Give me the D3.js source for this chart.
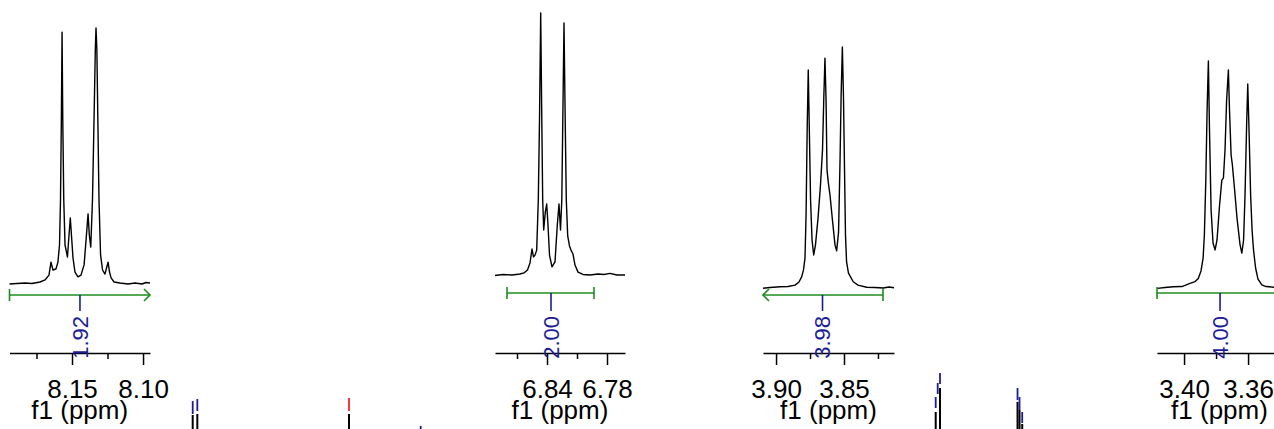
<!DOCTYPE html>
<html>
<head>
<meta charset="utf-8">
<script src="https://cdn.jsdelivr.net/npm/d3@7/dist/d3.min.js"></script>
<style>
  html, body { margin: 0; padding: 0; background: #fff; overflow: hidden; }
  svg { display: block; }
  text { font-family: "Liberation Sans", Arial, Helvetica, sans-serif; }
</style>
</head>
<body>
<svg id="chart" width="1274" height="429"></svg>
<script>
// ---------------- DATA ----------------
// Inset 1: 8.19 – 8.10 ppm
const p1Ppm = [8.1940,8.1887,8.1831,8.1782,8.1725,8.1690,8.1662,8.1648,8.1634,8.1613,8.1599,8.1588,8.1581,8.1575,8.1570,8.1565,8.1558,8.1549,8.1532,8.1521,8.1512,8.1504,8.1493,8.1479,8.1458,8.1437,8.1415,8.1401,8.1387,8.1378,8.1368,8.1356,8.1345,8.1336,8.1331,8.1325,8.1318,8.1310,8.1299,8.1285,8.1268,8.1257,8.1246,8.1236,8.1225,8.1204,8.1162,8.1106,8.1056,8.1007,8.0979,8.0951];
const p1Int = [-0.4,-0.2,0,-0.2,0.4,1.2,3.1,8.2,5.1,5.5,8.2,14.9,32.5,63.9,98.4,63.9,32.5,14.9,10.2,18.8,25.5,18.8,9.8,4.3,2.4,3.1,7.1,16.9,27.1,18.8,14.1,32.5,63.9,91.4,100,91.4,63.9,32.5,11.0,5.1,3.5,5.9,8.2,4.3,2.0,0.4,0,-0.4,0,-0.4,0.2,0];

// Inset 2: 6.89 – 6.76 ppm
const p2Ppm = [6.892,6.884,6.875,6.867,6.863,6.8595,6.857,6.855,6.8535,6.852,6.8503,6.8487,6.8475,6.8463,6.8452,6.8443,6.8433,6.8417,6.8403,6.839,6.8375,6.835,6.832,6.8297,6.828,6.8265,6.8252,6.8242,6.823,6.8218,6.8207,6.8193,6.8175,6.816,6.814,6.812,6.809,6.804,6.797,6.789,6.783,6.777,6.770,6.762];
const p2Int = [-0.2,0.2,0,0.4,0.8,1.9,4.6,9.9,6.9,7.6,9.5,28.6,59.2,100,59.2,28.6,17.2,24.0,27.1,19.1,7.6,3.1,5.0,19.1,27.1,17.2,28.6,59.2,96.2,59.2,28.6,14.9,11.1,9.5,8.0,3.8,1.1,0.2,0,0.4,0.2,0.6,0,0];

// Inset 3: 3.91 – 3.81 ppm
const p3Ppm = [3.9096,3.9044,3.8971,3.8912,3.8860,3.8831,3.8811,3.8798,3.8787,3.8779,3.8771,3.8763,3.8755,3.8746,3.8735,3.8723,3.8710,3.8691,3.8673,3.8658,3.8649,3.8640,3.8632,3.8625,3.8615,3.8603,3.8585,3.8566,3.8554,3.8540,3.8529,3.8521,3.8512,3.8504,3.8496,3.8489,3.8481,3.8467,3.8432,3.8397,3.8333,3.8272,3.8211,3.8169,3.8132];
const p3Int = [-0.1,0.2,0.5,0.6,1.2,2.5,4.7,7.5,12.4,30.3,65.6,90.5,65.6,36.5,19.9,13.7,17.8,29.0,42.7,57.3,78.0,95.4,78.0,49.0,43.6,38.6,28.2,17.8,15.4,23.2,53.1,80.1,100,80.1,49.0,22.0,10.8,6.2,2.6,1.2,0.3,0.2,0,0.4,0.1];

// Inset 4: 3.42 – 3.34 ppm
const p4Ppm = [3.4167,3.4119,3.4067,3.4013,3.3963,3.3931,3.3911,3.3894,3.3881,3.3873,3.3864,3.3856,3.3848,3.3841,3.3831,3.3819,3.3806,3.3794,3.3778,3.3764,3.3754,3.3744,3.3734,3.3723,3.3716,3.3706,3.3698,3.3684,3.3669,3.3650,3.3639,3.3628,3.3619,3.3609,3.3602,3.3594,3.3584,3.3575,3.3566,3.3553,3.3538,3.3514,3.3488,3.3438,3.3388];
const p4Int = [-0.6,-0.2,0.1,0.2,1.6,2.4,3.8,7.1,12.8,23.0,47.3,78.3,100,69.5,34.1,19.5,16.4,20.8,36.3,47.3,48.2,60.6,82.7,96.0,78.3,58.4,54.0,42.9,30.5,18.6,15.0,20.8,40.7,71.7,89.8,69.5,40.7,25.2,16.4,8.4,3.5,0.9,0.2,-0.1,-0.1];

// ppm window of each inset (left, right)
const windowLeft  = [8.1940, 6.892, 3.9096, 3.4169];
const windowRight = [8.0951, 6.762, 3.8132, 3.3388];

// axis ticks
const majorTicks = [[8.15, 8.10], [6.84, 6.78], [3.90, 3.85], [3.40, 3.36]];
const minorTicks = [[8.175, 8.125], [6.87, 6.81], [3.875, 3.825], [3.38]];
const axisTitle = "f1 (ppm)";

// integrals
const intLabels = ["1.92", "2.00", "3.98", "4.00"];
const intFrom   = [8.1940, 6.880, 3.9096, 3.4169];
const intTo     = [8.0951, 6.793, 3.8213, 3.3388];
const intMid    = [8.1444, 6.836, 3.8658, 3.3775];
const intLeftEnd  = ["bar", "bar", "arrow", "bar"];
const intRightEnd = ["arrow", "bar", "bar", "none"];

// main spectrum (mostly outside the crop): peak stubs and pick markers
const mainPeakPpm    = [8.1583, 8.1317, 7.2574, 3.8759, 3.8511, 3.4042, 3.3927, 3.3772];
const mainPeakHeight = [57, 57.5, 57.5, 58.5, 70.5, 63.5, 59.5, 52.5];
const markPpm   = [8.1583, 8.1317, 7.2574, 6.8441, 3.8759, 3.8644, 3.8511, 3.4042, 3.3927, 3.3772];
const markLow   = [57.5, 59, 59, 50, 60.5, 67.5, 72.5, 64.5, 59.5, 53];
const markHigh  = [64, 65, 65.5, 51.5, 66, 73, 78, 70.5, 66, 58.5];
const markKind  = ["peak","peak","solvent","peak","peak","peak","peak","peak","peak","peak"];

// ---------------- LAYOUT ----------------
const W = 1274, H = 429;
const svg = d3.select("#chart");
const axisY = 353;
const panels = [
  { ppm: p1Ppm, inten: p1Int, x0: 9.5,  x1: 150,  base: 283, top: 28, intY: 295 },
  { ppm: p2Ppm, inten: p2Int, x0: 495,  x1: 625,  base: 275, top: 13, intY: 293 },
  { ppm: p3Ppm, inten: p3Int, x0: 763,  x1: 894,  base: 288, top: 47, intY: 295 },
  { ppm: p4Ppm, inten: p4Int, x0: 1157, x1: 1282, base: 287, top: 61, intY: 293 }
];
const GREEN = "#1e8c1e";
const NAVY = "#1c1c96";

panels.forEach((p, i) => {
  const x = d3.scaleLinear().domain([windowLeft[i], windowRight[i]]).range([p.x0, p.x1]);
  const y = d3.scaleLinear().domain([0, 100]).range([p.base, p.top]);
  const g = svg.append("g");

  // spectrum
  const pts = p.ppm.map((v, k) => [v, p.inten[k]]);
  g.append("path")
    .datum(pts)
    .attr("fill", "none")
    .attr("stroke", "#000")
    .attr("stroke-width", 1.4)
    .attr("stroke-linejoin", "round")
    .attr("d", d3.line().x(d => x(d[0])).y(d => y(d[1])));

  // integral bracket
  const iy = p.intY;
  const xa = x(intFrom[i]), xb = x(intTo[i]), xm = x(intMid[i]);
  const ig = g.append("g").attr("stroke", GREEN).attr("stroke-width", 1.6).attr("fill", "none");
  ig.append("line").attr("x1", xa).attr("x2", xb).attr("y1", iy).attr("y2", iy);
  const end = (xe, kind, dir) => {
    if (kind === "bar") {
      ig.append("line").attr("x1", xe).attr("x2", xe).attr("y1", iy - 6).attr("y2", iy + 6);
    } else if (kind === "arrow") {
      ig.append("path").attr("d", `M${xe - dir * 6},${iy - 6}L${xe},${iy}L${xe - dir * 6},${iy + 6}`);
    }
  };
  end(xa, intLeftEnd[i], -1);
  end(xb, intRightEnd[i], 1);

  // integral value
  g.append("line").attr("x1", xm).attr("x2", xm).attr("y1", iy).attr("y2", 311)
    .attr("stroke", NAVY).attr("stroke-width", 1.6);

  // axis: minor ticks
  const axMinor = d3.axisBottom(x).tickValues(minorTicks[i]).tickSize(6).tickSizeOuter(0).tickFormat("");
  const gMinor = svg.append("g").attr("transform", `translate(0,${axisY})`).call(axMinor);
  gMinor.select(".domain").remove();
  gMinor.selectAll("line").attr("stroke", "#000").attr("stroke-width", 1.5);

  const axMajor = d3.axisBottom(x).tickValues(majorTicks[i]).tickSize(12).tickSizeOuter(0)
    .tickPadding(15).tickFormat(d3.format(".2f"));
  const gMajor = svg.append("g").attr("transform", `translate(0,${axisY})`).call(axMajor);
  gMajor.select(".domain").attr("stroke", "#000").attr("stroke-width", 1.5);
  gMajor.selectAll("line").attr("stroke", "#000").attr("stroke-width", 1.5);
  gMajor.selectAll("text").attr("font-size", 26).attr("fill", "#000")
    .attr("font-family", '"Liberation Sans", Arial, sans-serif');

  // integral label (on top of the axis)
  svg.append("text")
    .attr("transform", `translate(${xm},316) rotate(-90)`)
    .attr("text-anchor", "end")
    .attr("dy", "0.36em")
    .attr("font-size", 22)
    .attr("fill", NAVY)
    .text(intLabels[i]);

  // axis title
  svg.append("text")
    .attr("x", (p.x0 + p.x1) / 2)
    .attr("y", 419)
    .attr("text-anchor", "middle")
    .attr("font-size", 26)
    .attr("fill", "#000")
    .text(axisTitle);
});

// main spectrum fragments at the bottom edge
const xMain = d3.scaleLinear().domain([9.269, 1.926]).range([0, W]);
const yMain = d3.scaleLinear().domain([0, 100]).range([529, 329]);
svg.append("g").selectAll("line").data(mainPeakPpm).join("line")
  .attr("x1", d => xMain(d)).attr("x2", d => xMain(d))
  .attr("y1", yMain(0)).attr("y2", (d, k) => yMain(mainPeakHeight[k]))
  .attr("stroke", "#000").attr("stroke-width", 2);
svg.append("g").selectAll("line").data(markPpm).join("line")
  .attr("x1", d => xMain(d)).attr("x2", d => xMain(d))
  .attr("y1", (d, k) => yMain(markLow[k])).attr("y2", (d, k) => yMain(markHigh[k]))
  .attr("stroke", (d, k) => markKind[k] === "solvent" ? "#ff2020" : NAVY)
  .attr("stroke-width", 1.8);
</script>
</body>
</html>
